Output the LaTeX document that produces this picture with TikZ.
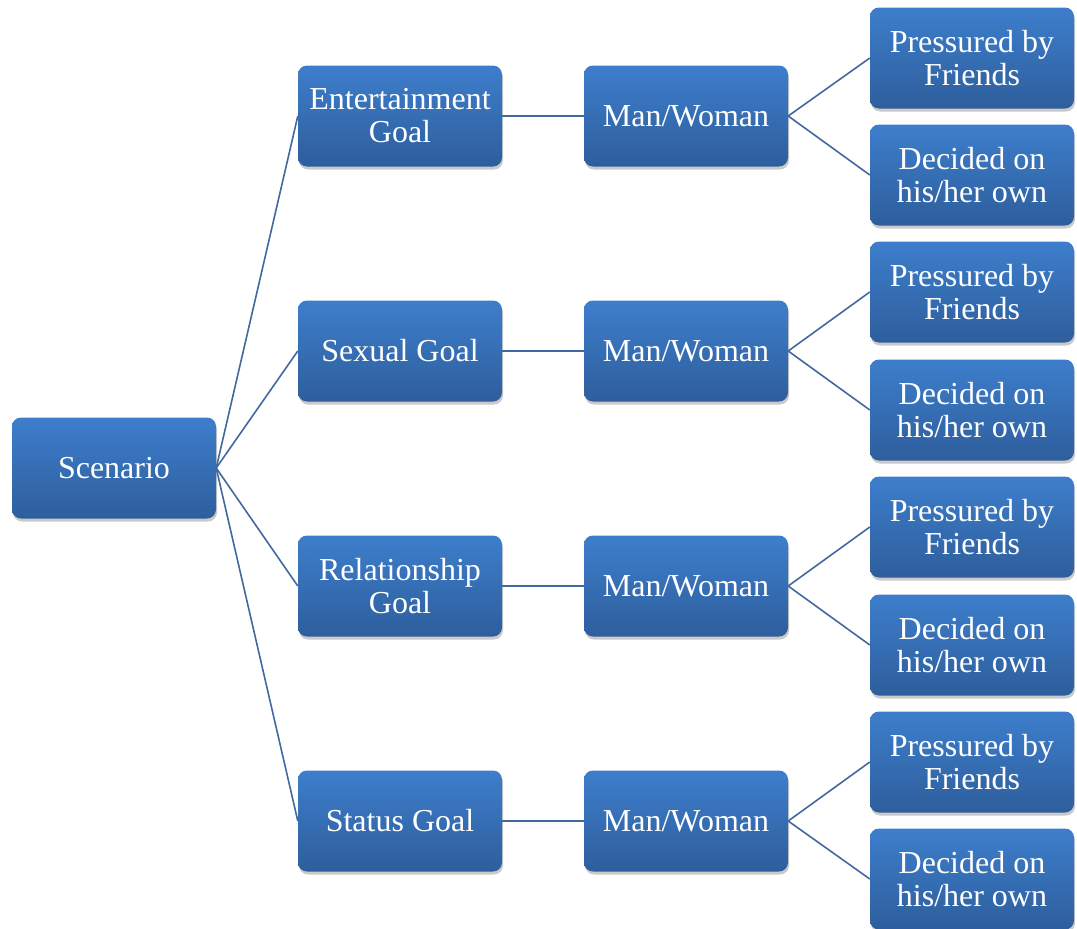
\documentclass[tikz,border=0pt]{standalone}
\usepackage{fontspec}
\setmainfont{Liberation Serif}
\usetikzlibrary{shadows}
\definecolor{boxtop}{RGB}{61,126,204}
\definecolor{boxbot}{RGB}{46,94,156}
\definecolor{linkc}{RGB}{65,105,160}
\tikzset{
  box/.style={rectangle, rounded corners=9pt, minimum width=204pt, minimum height=101pt,
    inner sep=2pt, align=center, text=white, top color=boxtop, bottom color=boxbot,
    draw=none, font=\fontsize{32}{33}\selectfont,
    drop shadow={opacity=0.35, shadow xshift=1pt, shadow yshift=-3pt, fill=black!60}},
  link/.style={draw=linkc, line width=1.6pt}
}
\begin{document}
\begin{tikzpicture}[x=1pt,y=-1pt]
\useasboundingbox (0,0) rectangle (1077,929);
\node[box] (sc) at (114,468) {Scenario};
\node[box] (g1) at (400,116) {Entertainment\\Goal};
\node[box] (g2) at (400,351) {Sexual Goal};
\node[box] (g3) at (400,586) {Relationship\\Goal};
\node[box] (g4) at (400,821) {Status Goal};
\node[box] (m1) at (686,116) {Man/Woman};
\node[box] (m2) at (686,351) {Man/Woman};
\node[box] (m3) at (686,586) {Man/Woman};
\node[box] (m4) at (686,821) {Man/Woman};
\node[box] (p1) at (972,58) {Pressured by\\Friends};
\node[box] (d1) at (972,175) {Decided on\\his/her own};
\node[box] (p2) at (972,292) {Pressured by\\Friends};
\node[box] (d2) at (972,410) {Decided on\\his/her own};
\node[box] (p3) at (972,527) {Pressured by\\Friends};
\node[box] (d3) at (972,645) {Decided on\\his/her own};
\node[box] (p4) at (972,762) {Pressured by\\Friends};
\node[box] (d4) at (972,879) {Decided on\\his/her own};
\foreach \g in {g1,g2,g3,g4} \draw[link] (sc.east) -- (\g.west);
\foreach \i in {1,2,3,4} {
  \draw[link] (g\i.east) -- (m\i.west);
  \draw[link] (m\i.east) -- (p\i.west);
  \draw[link] (m\i.east) -- (d\i.west);
}
\end{tikzpicture}
\end{document}
